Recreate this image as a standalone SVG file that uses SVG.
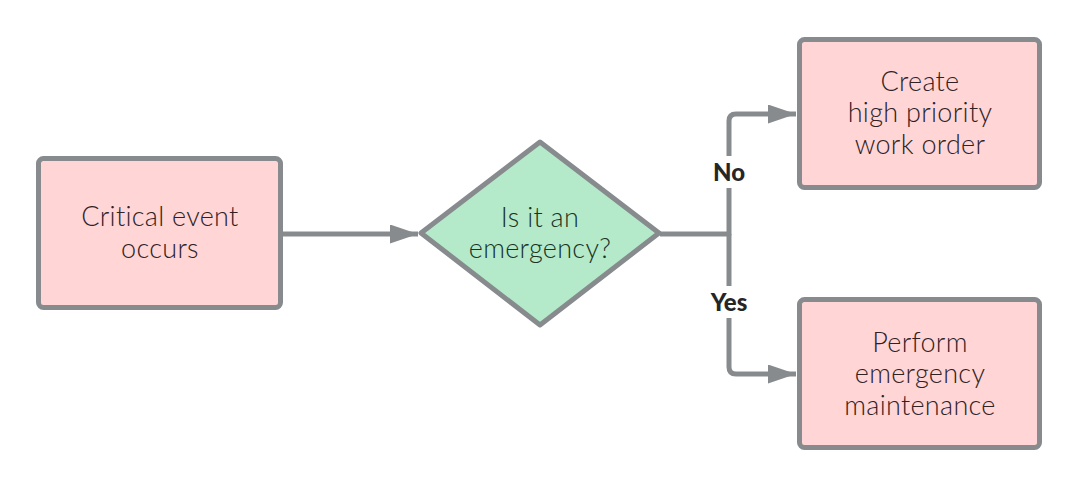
<svg xmlns="http://www.w3.org/2000/svg" width="1080" height="488" viewBox="0 0 1080 488">
<defs>
<style>
.box{fill:#ffd5d6;stroke:#878b8e;stroke-width:5}
.dia{fill:#b4eaca;stroke:#878b8e;stroke-width:5;stroke-linejoin:round}
.t{font-family:Lato,"Open Sans",sans-serif;font-size:27px;fill:#2e2224;text-anchor:middle;font-weight:300;letter-spacing:0.3px}
.td{font-family:Lato,"Open Sans",sans-serif;font-size:27px;fill:#1a3324;text-anchor:middle;font-weight:300;letter-spacing:0.3px}
.lbl{font-family:Lato,"Open Sans",sans-serif;font-size:24px;font-weight:900;fill:#262626;text-anchor:middle}
.c{fill:none;stroke:#878b8e;stroke-width:5;stroke-linejoin:round}
</style>
<marker id="ah" viewBox="0 0 10 10" refX="10" refY="5" markerWidth="5.6" markerHeight="3.8" orient="auto" markerUnits="strokeWidth" preserveAspectRatio="none">
<path d="M0,0 L10,5 L0,10 z" fill="#878b8e"/>
</marker>
</defs>
<rect width="1080" height="488" fill="#ffffff"/>
<g id="connectors">
<path class="c" d="M282,234 H418" marker-end="url(#ah)"/>
<path class="c" d="M660,234 H729 V121 Q729,114 736,114 H796" marker-end="url(#ah)"/>
<path class="c" d="M729,234 V367 Q729,374 736,374 H796" marker-end="url(#ah)"/>
<rect x="704" y="156" width="50" height="32" fill="#ffffff"/>
<text class="lbl" x="729" y="181">No</text>
<rect x="700" y="286" width="58" height="32" fill="#ffffff"/>
<text class="lbl" x="729" y="311">Yes</text>
</g>
<g id="n1">
<rect class="box" x="38.5" y="158.5" width="242" height="149" rx="5"/>
<text class="t" x="160" y="226">Critical event</text>
<text class="t" x="160" y="258">occurs</text>
</g>
<g id="n2">
<path class="dia" d="M540,142 L659,233 L540,325 L421,233 Z"/>
<text class="td" x="540" y="227">Is it an</text>
<text class="td" x="540" y="258">emergency?</text>
</g>
<g id="n3">
<rect class="box" x="799.5" y="39.5" width="240" height="148" rx="5"/>
<text class="t" x="920" y="91">Create</text>
<text class="t" x="920" y="122">high priority</text>
<text class="t" x="920" y="154">work order</text>
</g>
<g id="n4">
<rect class="box" x="799.5" y="299.5" width="240" height="148" rx="5"/>
<text class="t" x="920" y="352">Perform</text>
<text class="t" x="920" y="383">emergency</text>
<text class="t" x="920" y="415">maintenance</text>
</g>
</svg>
